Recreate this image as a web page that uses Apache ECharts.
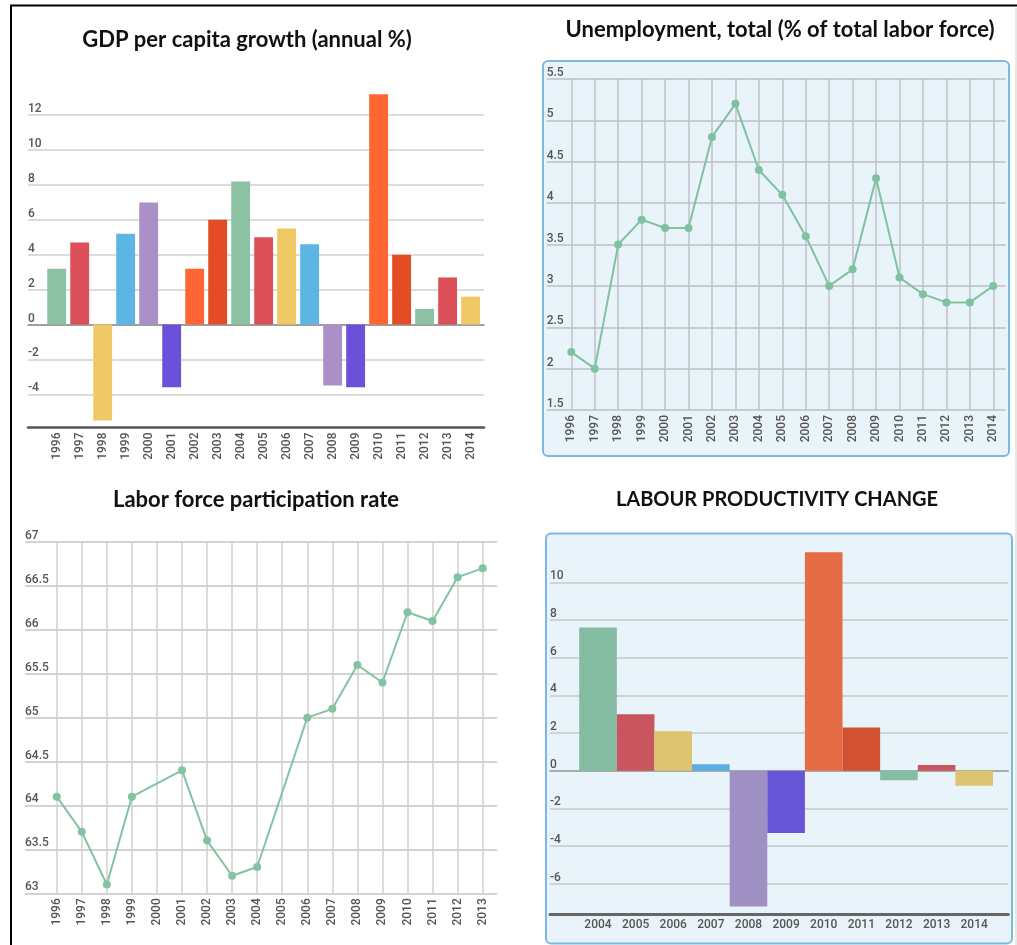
<!DOCTYPE html>
<html>
<head>
<meta charset="utf-8">
<script src="https://cdn.jsdelivr.net/npm/echarts@6/dist/echarts.min.js"></script>
<style>
html, body { margin: 0; padding: 0; background: #fff; }
#main { width: 1017px; height: 945px; }
</style>
</head>
<body>
<div id="main"></div>
<script>
// data
const gdpYears = ['1996', '1997', '1998', '1999', '2000', '2001', '2002', '2003', '2004', '2005',
    '2006', '2007', '2008', '2009', '2010', '2011', '2012', '2013', '2014'];
const gdpGrowth = [3.2, 4.7, -5.5, 5.2, 7.0, -3.6, 3.2, 6.0, 8.2, 5.0, 5.5, 4.6, -3.5, -3.6, 13.2, 4.0, 0.9, 2.7, 1.6];

const unempYears = gdpYears.slice();
const unemployment = [2.2, 2.0, 3.5, 3.8, 3.7, 3.7, 4.8, 5.2, 4.4, 4.1, 3.6, 3.0, 3.2, 4.3, 3.1, 2.9, 2.8, 2.8, 3.0];

const lfprYears = ['1996', '1997', '1998', '1999', '2000', '2001', '2002', '2003', '2004', '2005',
    '2006', '2007', '2008', '2009', '2010', '2011', '2012', '2013'];
const participation = [64.1, 63.7, 63.1, 64.1, null, 64.4, 63.6, 63.2, 63.3, null, 65.0, 65.1, 65.6, 65.4, 66.2, 66.1, 66.6, 66.7];

const prodYears = ['2004', '2005', '2006', '2007', '2008', '2009', '2010', '2011', '2012', '2013', '2014'];
const productivity = [7.6, 3.0, 2.1, 0.35, -7.2, -3.3, 11.6, 2.3, -0.5, 0.3, -0.8];

const gdpColors = ['#8cc2a3', '#db5059', '#efc965', '#5db5e4', '#ab8fc7', '#6b51d9', '#ff6633', '#e34c24'];
const prodColors = ['#85bca4', '#c9555e', '#dcc471', '#5aaee0', '#9f90c4', '#6757d6', '#e66c45', '#d15131'];

const labelColor = '#555';
const font = 'Roboto';

function evenOnly(v) {
    return Math.abs(v % 2) < 1e-9 ? String(v) : '';
}

function yLabels(formatter) {
    return {
        inside: true,
        margin: 0,
        verticalAlign: 'bottom',
        color: labelColor,
        fontFamily: font,
        fontWeight: 500,
        fontSize: 12,
        formatter: formatter
    };
}

function xLabels(rotate, size) {
    return {
        rotate: rotate,
        margin: 5,
        color: labelColor,
        fontFamily: font,
        fontWeight: 500,
        fontSize: size,
        interval: 0
    };
}

const hidden = { show: false };

const chart = echarts.init(document.getElementById('main'));
const option = {
    animation: false,
    grid: [
        // gdp: wide grid for gridlines, narrow grid for bars
        { left: 28, top: 89, width: 456, height: 338.5, outerBoundsMode: 'none' },
        { left: 45.2, top: 89, width: 436.9, height: 338.5, outerBoundsMode: 'none' },
        // unemployment
        { left: 546.7, top: 79, width: 459, height: 331, outerBoundsMode: 'none' },
        { left: 559.6, top: 79, width: 445.4, height: 331, outerBoundsMode: 'none' },
        // participation
        { left: 25, top: 542, width: 472, height: 351.3, outerBoundsMode: 'none' },
        { left: 44.2, top: 542, width: 451, height: 351.3, outerBoundsMode: 'none' },
        // productivity
        { left: 550, top: 548.4, width: 458.3, height: 365.6, outerBoundsMode: 'none' },
        { left: 579.2, top: 548.4, width: 413.8, height: 365.6, outerBoundsMode: 'none' }
    ],
    xAxis: [
        {
            gridIndex: 0, type: 'category', data: gdpYears,
            axisLine: { onZero: false, lineStyle: { color: '#555', width: 2.5 } },
            axisTick: hidden, axisLabel: hidden, splitLine: hidden
        },
        {
            gridIndex: 0, type: 'category', data: gdpYears, position: 'top',
            axisLine: { onZero: true, lineStyle: { color: '#8a8a8a', width: 1.5 } },
            axisTick: hidden, axisLabel: hidden, splitLine: hidden
        },
        {
            gridIndex: 1, type: 'category', data: gdpYears,
            axisLine: hidden, axisTick: hidden, axisLabel: xLabels(90, 12)
        },
        { gridIndex: 2, type: 'category', data: unempYears, show: false },
        {
            gridIndex: 3, type: 'category', data: unempYears,
            axisLine: hidden, axisTick: hidden, axisLabel: xLabels(90, 12),
            splitLine: { show: true, alignWithLabel: true, lineStyle: { color: '#bcc2c6', width: 1.5 } }
        },
        { gridIndex: 4, type: 'category', data: lfprYears, show: false },
        {
            gridIndex: 5, type: 'category', data: lfprYears,
            axisLine: hidden, axisTick: hidden, axisLabel: xLabels(90, 12),
            splitLine: { show: true, alignWithLabel: true, lineStyle: { color: '#cfcfcf', width: 1.5 } }
        },
        {
            gridIndex: 6, type: 'category', data: prodYears,
            axisLine: { onZero: false, lineStyle: { color: '#666', width: 3 } },
            axisTick: hidden, axisLabel: hidden, splitLine: hidden
        },
        {
            gridIndex: 6, type: 'category', data: prodYears, position: 'top',
            axisLine: { onZero: true, lineStyle: { color: '#9a9fa3', width: 1.5 } },
            axisTick: hidden, axisLabel: hidden, splitLine: hidden
        },
        {
            gridIndex: 7, type: 'category', data: prodYears,
            axisLine: hidden, axisTick: hidden, axisLabel: xLabels(0, 12)
        }
    ],
    yAxis: [
        {
            gridIndex: 0, type: 'value', min: -5.9, max: 13.5, minInterval: 2, maxInterval: 2,
            axisLine: hidden, axisTick: hidden, axisLabel: yLabels(evenOnly),
            splitLine: { show: true, showMinLine: false, showMaxLine: false, lineStyle: { color: '#dcdcdc', width: 2 } }
        },
        { gridIndex: 1, type: 'value', min: -5.9, max: 13.5, minInterval: 2, maxInterval: 2, show: false, splitLine: hidden },
        {
            gridIndex: 2, type: 'value', min: 1.5, max: 5.5, interval: 0.5,
            axisLine: hidden, axisTick: hidden, axisLabel: yLabels(),
            splitLine: { show: true, lineStyle: { color: '#b8bfc4', width: 1.5 } }
        },
        { gridIndex: 3, type: 'value', min: 1.5, max: 5.5, interval: 0.5, show: false, splitLine: hidden },
        {
            gridIndex: 4, type: 'value', min: 63, max: 67, interval: 0.5,
            axisLine: hidden, axisTick: hidden, axisLabel: yLabels(),
            splitLine: { show: true, lineStyle: { color: '#c4c4c4', width: 1.5 } }
        },
        { gridIndex: 5, type: 'value', min: 63, max: 67, interval: 0.5, show: false, splitLine: hidden },
        {
            gridIndex: 6, type: 'value', min: -7.6, max: 11.8, minInterval: 2, maxInterval: 2,
            axisLine: hidden, axisTick: hidden, axisLabel: yLabels(evenOnly),
            splitLine: { show: true, showMinLine: false, showMaxLine: false, lineStyle: { color: '#c3c9cd', width: 1.5 } }
        },
        { gridIndex: 7, type: 'value', min: -7.6, max: 11.8, minInterval: 2, maxInterval: 2, show: false, splitLine: hidden }
    ],
    series: [
        {
            name: 'GDP per capita growth',
            type: 'bar',
            xAxisIndex: 2,
            yAxisIndex: 1,
            barCategoryGap: '18%',
            data: gdpGrowth.map(function (v, i) {
                return { value: v, itemStyle: { color: gdpColors[i % gdpColors.length] } };
            })
        },
        {
            name: 'Unemployment',
            type: 'line',
            xAxisIndex: 4,
            yAxisIndex: 3,
            symbol: 'circle',
            symbolSize: 8,
            lineStyle: { color: '#80c29f', width: 2 },
            itemStyle: { color: '#80c29f' },
            data: unemployment
        },
        {
            name: 'Labor force participation rate',
            type: 'line',
            xAxisIndex: 6,
            yAxisIndex: 5,
            symbol: 'circle',
            symbolSize: 8,
            connectNulls: true,
            lineStyle: { color: '#84c3a0', width: 2 },
            itemStyle: { color: '#84c3a0' },
            data: participation
        },
        {
            name: 'Labour productivity change',
            type: 'bar',
            xAxisIndex: 9,
            yAxisIndex: 7,
            barCategoryGap: '0%',
            data: productivity.map(function (v, i) {
                return { value: v, itemStyle: { color: prodColors[i % prodColors.length] } };
            })
        }
    ],
    graphic: [
        // frame of the screenshot
        { type: 'line', z: 5, silent: true, shape: { x1: 10, y1: 5.5, x2: 1017, y2: 5.5 }, style: { stroke: '#000', lineWidth: 2 } },
        { type: 'line', z: 5, silent: true, shape: { x1: 11, y1: 5, x2: 11, y2: 945 }, style: { stroke: '#000', lineWidth: 2 } },
        { type: 'line', z: 5, silent: true, shape: { x1: 1016, y1: 8, x2: 1016, y2: 945 }, style: { stroke: '#d0d0d0', lineWidth: 1 } },
        // light blue panels
        { type: 'rect', z: -10, silent: true, shape: { x: 543, y: 61, width: 466, height: 395, r: 5 }, style: { fill: '#e9f4fa', stroke: '#7cb9e0', lineWidth: 2 } },
        { type: 'rect', z: -10, silent: true, shape: { x: 546, y: 533.5, width: 466, height: 410, r: 5 }, style: { fill: '#e9f4fa', stroke: '#7cb9e0', lineWidth: 2 } },
        // titles
        { type: 'text', z: 10, x: 247, y: 40, style: { text: 'GDP per capita growth (annual %)', font: 'bold 22px Lato', fill: '#111', align: 'center', verticalAlign: 'middle' } },
        { type: 'text', z: 10, x: 780, y: 30, style: { text: 'Unemployment, total (% of total labor force)', font: 'bold 22px Lato', fill: '#111', align: 'center', verticalAlign: 'middle' } },
        { type: 'text', z: 10, x: 256, y: 500, style: { text: 'Labor force participation rate', font: 'bold 22px Lato', fill: '#111', align: 'center', verticalAlign: 'middle' } },
        { type: 'text', z: 10, x: 777, y: 500, style: { text: 'LABOUR PRODUCTIVITY CHANGE', font: 'bold 20px Lato', fill: '#111', align: 'center', verticalAlign: 'middle' } }
    ]
};
chart.setOption(option);
</script>
</body>
</html>
